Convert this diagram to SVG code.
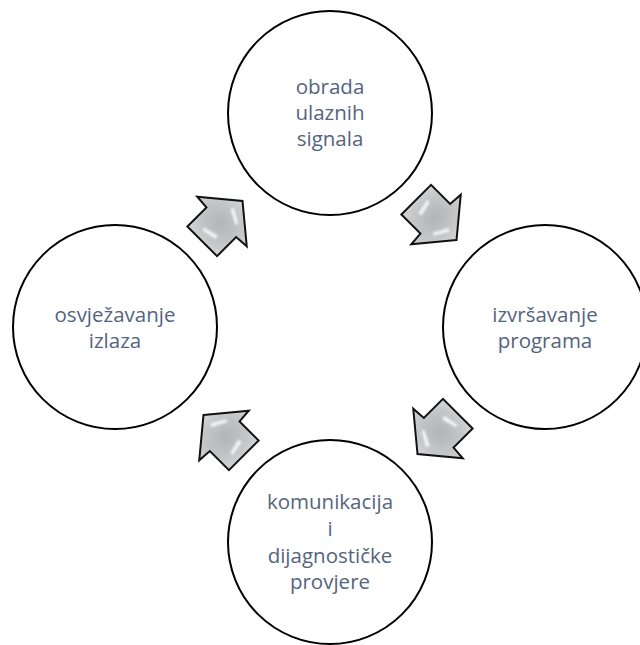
<svg xmlns="http://www.w3.org/2000/svg" width="640" height="645" viewBox="0 0 640 645">
<style>
  .node circle { fill: #ffffff; stroke: #000000; stroke-width: 2; }
  .node text { font-family: 'Open Sans', 'Liberation Sans', sans-serif; font-size: 20.5px; fill: #546480; text-anchor: middle; }
  .arrow .body { fill: url(#silver); stroke: #111111; stroke-width: 2; stroke-linejoin: miter; }
  .arrow .hl { fill: #ffffff; opacity: 0.85; filter: url(#soft); }
</style>
<defs>
  <radialGradient id="silver" cx="0.45" cy="0.5" r="0.6">
    <stop offset="0" stop-color="#b3b4b6"/>
    <stop offset="0.6" stop-color="#c6c7c9"/>
    <stop offset="1" stop-color="#dcdcdd"/>
  </radialGradient>
  <filter id="soft" x="-50%" y="-50%" width="200%" height="200%">
    <feGaussianBlur stdDeviation="1"/>
  </filter>
  <g id="arrowShape" class="arrow">
    <path class="body" d="M29,0 L0,35 L-1,21 L-28,21 L-28,-21 L-1,-21 L0,-35 Z"/>
    <path class="hl" d="M15,-3 L18,-1 L10,13 L7,12 Z"/>
    <path class="hl" d="M-20,-8 L-17,-8 L-13,7 L-17,8 Z"/>
  </g>
</defs>

<g id="connectors">
  <g id="arrow-left-top" transform="translate(222,221.5) rotate(-45)">
    <use href="#arrowShape"/>
  </g>
  <g id="arrow-top-right" transform="rotate(90 330 327.5)">
    <g transform="translate(222,221.5) rotate(-45)"><use href="#arrowShape"/></g>
  </g>
  <g id="arrow-right-bottom" transform="rotate(180 330 327.5)">
    <g transform="translate(222,221.5) rotate(-45)"><use href="#arrowShape"/></g>
  </g>
  <g id="arrow-bottom-left" transform="rotate(270 330 327.5)">
    <g transform="translate(222,221.5) rotate(-45)"><use href="#arrowShape"/></g>
  </g>
</g>

<g id="node-top" class="node">
  <circle cx="330" cy="113" r="102"/>
  <text x="330" y="94">obrada</text>
  <text x="330" y="120">ulaznih</text>
  <text x="330" y="146">signala</text>
</g>

<g id="node-right" class="node">
  <circle cx="545" cy="327" r="102"/>
  <text x="545" y="322">izvršavanje</text>
  <text x="545" y="348">programa</text>
</g>

<g id="node-bottom" class="node">
  <circle cx="330" cy="542" r="102"/>
  <text x="330" y="509">komunikacija</text>
  <text x="330" y="536">i</text>
  <text x="330" y="563">dijagnostičke</text>
  <text x="330" y="589">provjere</text>
</g>

<g id="node-left" class="node">
  <circle cx="115" cy="327" r="102"/>
  <text x="115" y="322">osvježavanje</text>
  <text x="115" y="348">izlaza</text>
</g>
</svg>
